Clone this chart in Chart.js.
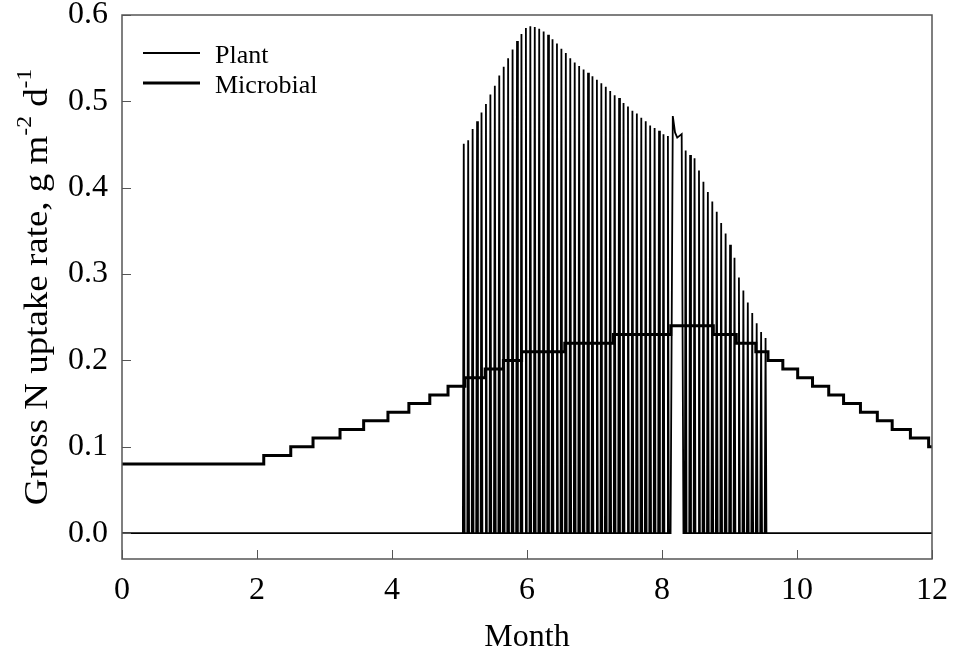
<!DOCTYPE html>
<html>
<head>
<meta charset="utf-8">
<script src="https://cdn.jsdelivr.net/npm/chart.js@4.4.1/dist/chart.umd.min.js"></script>
<style>
html, body { margin: 0; padding: 0; background: #fff; }
#wrap { width: 960px; height: 657px; }
</style>
</head>
<body>
<div id="wrap"><canvas id="chart" width="960" height="657"></canvas></div>
<script>
// axis ticks
let monthTicks = [0, 2, 4, 6, 8, 10, 12];
let rateTicks = [0.0, 0.1, 0.2, 0.3, 0.4, 0.5, 0.6];

// Plant uptake - short pulse every second day (day of year), zero in between
let plantDays1 = [154, 156, 158, 160, 162, 164, 166, 168, 170, 172,
                  174, 176, 178, 180, 182, 184, 186, 188, 190, 192,
                  194, 196, 198, 200, 202, 204, 206, 208, 210, 212,
                  214, 216, 218, 220, 222, 224, 226, 228, 230, 232,
                  234, 236, 238, 240, 242, 244, 246];
let plantPeaks1 = [0.451, 0.455, 0.468, 0.477, 0.487, 0.497, 0.508, 0.518, 0.530, 0.540,
                   0.550, 0.560, 0.570, 0.578, 0.585, 0.587, 0.586, 0.584, 0.581, 0.577,
                   0.572, 0.567, 0.561, 0.556, 0.550, 0.545, 0.541, 0.537, 0.533, 0.529,
                   0.525, 0.521, 0.517, 0.512, 0.507, 0.504, 0.498, 0.494, 0.489, 0.486,
                   0.481, 0.477, 0.472, 0.469, 0.466, 0.462, 0.460];

// short continuous stretch
let plantDays2 = [247.2, 248.2, 249.2, 250.2, 251.2, 252.2, 253.0];
let plantVals2 = [0, 0.483, 0.464, 0.458, 0.460, 0.462, 0];

let plantDays3 = [254, 256, 258, 260, 262, 264, 266, 268, 270, 272,
                  274, 276, 278, 280, 282, 284, 286, 288, 290];
let plantPeaks3 = [0.443, 0.438, 0.434, 0.420, 0.407, 0.395, 0.384, 0.372, 0.359, 0.347,
                   0.334, 0.319, 0.296, 0.281, 0.267, 0.255, 0.243, 0.233, 0.226];

// Microbial uptake - month where each level starts
let microMonths = [0, 2.10, 2.50, 2.83, 3.23, 3.58, 3.94, 4.25, 4.56, 4.83,
                   5.08, 5.38, 5.65, 5.92, 6.56, 7.28, 8.13, 8.76, 9.10, 9.39,
                   9.57, 9.79, 10.01, 10.23, 10.47, 10.69, 10.94, 11.19, 11.41, 11.68,
                   11.95, 12];
let microVals = [0.08, 0.09, 0.10, 0.11, 0.12, 0.13, 0.14, 0.15, 0.16, 0.17,
                 0.18, 0.19, 0.20, 0.21, 0.22, 0.23, 0.24, 0.23, 0.22, 0.21,
                 0.20, 0.19, 0.18, 0.17, 0.16, 0.15, 0.14, 0.13, 0.12, 0.11,
                 0.10, 0.10];

let daysPerMonth = 365 / 12;
let pulseHalf = 0.4;   // half width of a pulse, days
let serif = "'Liberation Serif', 'Times New Roman', serif";

function toMonth(day){
    return day / daysPerMonth;
}

// each pulse: zero, peak, zero
function addPulses(points, days, peaks){
    for(let i = 0; i < days.length; i++){
        points.push({x: toMonth(days[i] - pulseHalf), y: 0});
        points.push({x: toMonth(days[i]), y: peaks[i]});
        points.push({x: toMonth(days[i] + pulseHalf), y: 0});
    }
}

let plantData = [{x: 0, y: 0}];
addPulses(plantData, plantDays1, plantPeaks1);
for(let i = 0; i < plantDays2.length; i++){
    plantData.push({x: toMonth(plantDays2[i]), y: plantVals2[i]});
}
addPulses(plantData, plantDays3, plantPeaks3);
plantData.push({x: 12, y: 0});

let microData = microMonths.map(function(m, i){
    return {x: m, y: microVals[i]};
});

// frame, inward ticks, y title and legend
let decorPlugin = {
    id: "decor",
    afterDraw: function(chart){
        let ctx = chart.ctx;
        let area = chart.chartArea;
        let xs = chart.scales.x;
        let ys = chart.scales.y;

        ctx.save();
        ctx.strokeStyle = "#555";
        ctx.lineWidth = 1.5;
        ctx.strokeRect(area.left, area.top, area.right - area.left, area.bottom - area.top);

        ctx.beginPath();
        rateTicks.forEach(function(v){
            let y = Math.round(ys.getPixelForValue(v)) + 0.5;
            ctx.moveTo(area.left, y);
            ctx.lineTo(area.left + 9, y);
        });
        monthTicks.forEach(function(m){
            let x = Math.round(xs.getPixelForValue(m)) + 0.5;
            ctx.moveTo(x, area.bottom);
            ctx.lineTo(x, area.bottom - 9);
        });
        ctx.lineWidth = 1;
        ctx.stroke();

        // y axis title with superscripts
        let parts = [
            {t: "Gross N uptake rate, g m", size: 33, up: 0},
            {t: "-2", size: 21, up: 13},
            {t: " d", size: 33, up: 0},
            {t: "-1", size: 21, up: 13}
        ];
        let stretch = 1.12;
        let total = 0;
        parts.forEach(function(p){
            ctx.font = p.size + "px " + serif;
            p.w = ctx.measureText(p.t).width;
            total += p.w;
        });
        ctx.translate(38, (area.top + area.bottom) / 2);
        ctx.rotate(-Math.PI / 2);
        ctx.scale(stretch, 1);
        ctx.fillStyle = "#000";
        ctx.textBaseline = "middle";
        let pos = -total / 2;
        parts.forEach(function(p){
            ctx.font = p.size + "px " + serif;
            ctx.fillText(p.t, pos, -p.up);
            pos += p.w;
        });
        ctx.restore();

        // legend
        ctx.save();
        ctx.strokeStyle = "#000";
        ctx.fillStyle = "#000";
        ctx.font = "26px " + serif;
        ctx.textBaseline = "alphabetic";
        chart.data.datasets.forEach(function(ds, i){
            let y = 53 + i * 30;
            ctx.lineWidth = ds.borderWidth;
            ctx.beginPath();
            ctx.moveTo(143, y);
            ctx.lineTo(200, y);
            ctx.stroke();
            ctx.fillText(ds.label, 215, y + 10);
        });
        ctx.restore();
    }
};

new Chart(document.getElementById("chart").getContext("2d"), {
    type: "line",
    data: {
        datasets: [
            {
                label: "Plant",
                data: plantData,
                borderColor: "#000",
                borderWidth: 1.8,
                pointRadius: 0,
                tension: 0,
                order: 1
            },
            {
                label: "Microbial",
                data: microData,
                borderColor: "#000",
                borderWidth: 3,
                pointRadius: 0,
                stepped: true,
                order: 0
            }
        ]
    },
    options: {
        responsive: false,
        animation: false,
        devicePixelRatio: 1,
        layout: { padding: { left: 0, right: 23, top: 0, bottom: 0 } },
        plugins: {
            legend: { display: false },
            tooltip: { enabled: false }
        },
        scales: {
            x: {
                type: "linear",
                min: 0,
                max: 12,
                grid: { display: false, drawTicks: false },
                border: { display: false },
                afterBuildTicks: function(scale){
                    scale.ticks = monthTicks.map(function(v){ return {value: v}; });
                },
                afterFit: function(scale){ scale.height = 98; },
                ticks: {
                    color: "#000",
                    padding: 12,
                    maxRotation: 0,
                    font: { family: serif, size: 32 }
                },
                title: {
                    display: true,
                    text: "Month",
                    color: "#000",
                    padding: { top: 0, bottom: 0 },
                    font: { family: serif, size: 32 }
                }
            },
            y: {
                type: "linear",
                min: -0.03,
                max: 0.6,
                grid: { display: false, drawTicks: false },
                border: { display: false },
                afterBuildTicks: function(scale){
                    scale.ticks = rateTicks.map(function(v){ return {value: v}; });
                },
                afterFit: function(scale){ scale.width = 122; },
                ticks: {
                    color: "#000",
                    padding: 14,
                    // small line height keeps the plot top at 15px
                    font: { family: serif, size: 32, lineHeight: 0.0625 },
                    callback: function(v){ return v.toFixed(1); }
                }
            }
        }
    },
    plugins: [decorPlugin]
});
</script>
</body>
</html>
